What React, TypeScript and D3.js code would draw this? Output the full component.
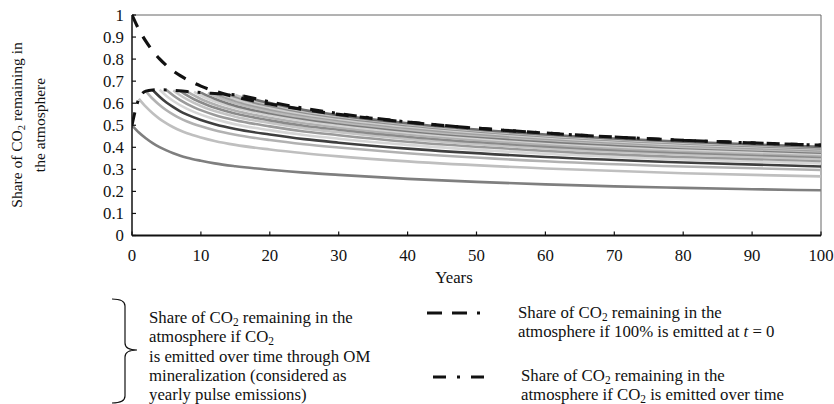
import React from 'react';
import * as d3 from 'd3';

// ---------- data ----------
const X_TICKS = [0, 10, 20, 30, 40, 50, 60, 70, 80, 90, 100];
const Y_TICKS = [0, 0.1, 0.2, 0.3, 0.4, 0.5, 0.6, 0.7, 0.8, 0.9, 1];
const Y_TICK_LABELS = ['0', '0.1', '0.2', '0.3', '0.4', '0.5', '0.6', '0.7', '0.8', '0.9', '1'];

// 100% emitted at t = 0
const DASHED_YEARS = [0, 1, 2, 3, 4, 5, 6, 7, 8, 10, 12, 15, 20, 25, 30, 40, 50, 60, 70, 80, 90, 100];
const DASHED_SHARE = [1, 0.9345, 0.8812, 0.8373, 0.8012, 0.7712, 0.7461, 0.7249, 0.7067, 0.6775, 0.6549, 0.6288, 0.5962, 0.5708, 0.5491, 0.5142, 0.4865, 0.4644, 0.4465, 0.4319, 0.4198, 0.4095];

// emitted over time
const DASHDOT_YEARS = [0, 1, 2, 3, 4, 5, 6, 8, 10, 12, 14, 16, 18, 20, 25, 30, 40, 60, 80, 100];
const DASHDOT_SHARE = [0.5, 0.62, 0.655, 0.66, 0.661, 0.66, 0.658, 0.653, 0.648, 0.644, 0.64, 0.634, 0.62, 0.606, 0.577, 0.553, 0.515, 0.465, 0.432, 0.41];

// yearly pulse curves: [year, share]
const GRAY_0 = [[0, 0.5], [1, 0.467], [2, 0.441], [3, 0.419], [4, 0.401], [5, 0.386], [6, 0.373], [7, 0.362], [8, 0.353], [10, 0.339], [12, 0.327], [15, 0.314], [20, 0.298], [25, 0.285], [30, 0.275], [40, 0.257], [50, 0.243], [60, 0.232], [70, 0.223], [80, 0.216], [90, 0.21], [100, 0.205]];
const GRAY_1 = [[1, 0.62], [2, 0.584], [3, 0.554], [4, 0.529], [5, 0.509], [6, 0.491], [7, 0.476], [8, 0.464], [10, 0.445], [12, 0.429], [15, 0.411], [20, 0.39], [25, 0.373], [30, 0.359], [40, 0.336], [60, 0.304], [80, 0.282], [100, 0.268]];
const GRAY_2 = [[2, 0.655], [3, 0.62], [4, 0.592], [5, 0.568], [6, 0.548], [7, 0.531], [8, 0.517], [10, 0.495], [12, 0.477], [15, 0.457], [20, 0.433], [25, 0.414], [30, 0.399], [40, 0.373], [60, 0.337], [80, 0.313], [100, 0.297]];
const GRAY_3 = [[3, 0.66], [4, 0.629], [5, 0.603], [6, 0.582], [7, 0.563], [8, 0.548], [10, 0.524], [12, 0.505], [15, 0.483], [20, 0.458], [25, 0.437], [30, 0.421], [40, 0.394], [60, 0.356], [80, 0.331], [100, 0.313]];
const GRAY_4 = [[4, 0.661], [5, 0.633], [6, 0.61], [8, 0.574], [11, 0.537], [15, 0.504], [20, 0.478], [25, 0.456], [30, 0.439], [40, 0.411], [60, 0.371], [80, 0.345], [100, 0.327]];
const GRAY_5 = [[5, 0.66], [6, 0.635], [7, 0.614], [9, 0.581], [12, 0.547], [15, 0.523], [20, 0.495], [25, 0.472], [30, 0.455], [40, 0.425], [60, 0.384], [80, 0.356], [100, 0.338]];
const GRAY_6 = [[6, 0.658], [7, 0.636], [8, 0.617], [10, 0.587], [13, 0.555], [15, 0.539], [20, 0.51], [25, 0.486], [30, 0.468], [40, 0.438], [60, 0.395], [80, 0.367], [100, 0.347]];
const GRAY_7 = [[7, 0.656], [8, 0.635], [9, 0.618], [11, 0.591], [14, 0.561], [20, 0.522], [25, 0.498], [30, 0.48], [40, 0.448], [60, 0.404], [80, 0.375], [100, 0.356]];
const GRAY_8 = [[8, 0.653], [9, 0.635], [10, 0.619], [12, 0.594], [15, 0.566], [20, 0.534], [25, 0.509], [30, 0.49], [40, 0.458], [60, 0.413], [80, 0.383], [100, 0.363]];
const GRAY_9 = [[9, 0.651], [10, 0.634], [11, 0.62], [13, 0.597], [16, 0.571], [20, 0.545], [25, 0.519], [30, 0.499], [40, 0.467], [60, 0.421], [80, 0.39], [100, 0.37]];
const GRAY_10 = [[10, 0.648], [11, 0.633], [12, 0.62], [14, 0.598], [17, 0.573], [20, 0.554], [25, 0.528], [30, 0.508], [40, 0.474], [60, 0.427], [80, 0.397], [100, 0.376]];
const GRAY_11 = [[11, 0.646], [12, 0.632], [13, 0.62], [15, 0.6], [18, 0.576], [20, 0.563], [25, 0.536], [30, 0.515], [40, 0.481], [60, 0.434], [80, 0.402], [100, 0.381]];
const GRAY_12 = [[12, 0.644], [13, 0.631], [14, 0.62], [16, 0.601], [19, 0.578], [25, 0.544], [30, 0.523], [40, 0.488], [60, 0.439], [80, 0.408], [100, 0.386]];
const GRAY_13 = [[13, 0.642], [14, 0.63], [15, 0.619], [17, 0.601], [20, 0.58], [25, 0.551], [30, 0.529], [40, 0.494], [60, 0.445], [80, 0.413], [100, 0.391]];
const GRAY_14 = [[14, 0.64], [15, 0.629], [16, 0.619], [18, 0.601], [21, 0.582], [25, 0.558], [30, 0.535], [40, 0.5], [60, 0.45], [80, 0.417], [100, 0.395]];
const GRAY_15 = [[15, 0.638], [16, 0.627], [17, 0.618], [19, 0.602], [22, 0.582], [25, 0.564], [30, 0.541], [40, 0.505], [60, 0.454], [80, 0.421], [100, 0.399]];
const GRAY_16 = [[16, 0.634], [17, 0.625], [18, 0.616], [20, 0.601], [23, 0.582], [25, 0.569], [30, 0.546], [40, 0.509], [60, 0.458], [80, 0.425], [100, 0.402]];

const GRAY_CURVES = [GRAY_0, GRAY_1, GRAY_2, GRAY_3, GRAY_4, GRAY_5, GRAY_6, GRAY_7, GRAY_8, GRAY_9, GRAY_10, GRAY_11, GRAY_12, GRAY_13, GRAY_14, GRAY_15, GRAY_16];

// ---------- drawing ----------
const W = 834;
const H = 404;
const FONT = '"Liberation Serif", "Times New Roman", serif';
const FS = 16.8;
const GRAY_PALETTE = ['#7f7f7f', '#bfbfbf', '#b2b2b2', '#3f3f3f', '#d6d6d6', '#9a9a9a', '#c4c4c4', '#8a8a8a', '#b0b0b0', '#d2d2d2', '#7c7c7c', '#bababa', '#a0a0a0', '#cdcdcd', '#8f8f8f', '#c2c2c2', '#6e6e6e'];

const Sub = ({ children }: { children: React.ReactNode }) => (
  <tspan fontSize="0.68em" baselineShift="-0.25em">{children}</tspan>
);

export default function App() {
  const x = d3.scaleLinear().domain([0, 100]).range([132, 821]);
  const y = d3.scaleLinear().domain([0, 1]).range([235.5, 15]);
  const line = d3
    .line<number[]>()
    .x((d) => x(d[0]))
    .y((d) => y(d[1]))
    .curve(d3.curveMonotoneX);

  const dashed = DASHED_YEARS.map((t, i) => [t, DASHED_SHARE[i]]);
  const dashdot = DASHDOT_YEARS.map((t, i) => [t, DASHDOT_SHARE[i]]);

  const [x0, x1] = x.range();
  const [yb, yt] = y.range();

  return (
    <svg
      width={W}
      height={H}
      style={{ position: 'absolute', left: 0, top: 0, display: 'block', background: '#fff' }}
      fontFamily={FONT}
    >
      <defs>
        <clipPath id="plot">
          <rect x={x0} y={yt - 2} width={x1 - x0} height={yb - yt + 2} />
        </clipPath>
      </defs>

      {/* frame */}
      <line x1={x0} x2={x1} y1={yt} y2={yt} stroke="#666" strokeWidth={1} />
      <line x1={x1} x2={x1} y1={yt} y2={yb} stroke="#666" strokeWidth={1} />

      <g clipPath="url(#plot)" fill="none">
        {GRAY_CURVES.map((c, i) => (
          <path key={i} d={line(c) || ''} stroke={GRAY_PALETTE[i % GRAY_PALETTE.length]} strokeWidth={2.6} />
        ))}
        <path d={line(dashdot) || ''} stroke="#111" strokeWidth={3} strokeDasharray="13 9 3 9" />
        <path d={line(dashed) || ''} stroke="#111" strokeWidth={3.2} strokeDasharray="13 11" />
      </g>

      {/* axes */}
      <line x1={x0} x2={x0} y1={yt} y2={yb} stroke="#111" strokeWidth={1.5} />
      <line x1={x0} x2={x1} y1={yb} y2={yb} stroke="#111" strokeWidth={1.8} />

      {Y_TICKS.map((v, i) => (
        <g key={'y' + i}>
          <line x1={x0} x2={x0 + 4} y1={y(v)} y2={y(v)} stroke="#111" strokeWidth={1.2} />
          <text x={x0 - 8} y={y(v) + 5.5} textAnchor="end" fontSize={FS} fill="#111">
            {Y_TICK_LABELS[i]}
          </text>
        </g>
      ))}
      {X_TICKS.map((v) => (
        <g key={'x' + v}>
          <line x1={x(v)} x2={x(v)} y1={yb} y2={yb - 4} stroke="#111" strokeWidth={1.2} />
          <text x={x(v)} y={261} textAnchor="middle" fontSize={FS} fill="#111">
            {v}
          </text>
        </g>
      ))}
      <text x={454} y={283} textAnchor="middle" fontSize={FS} fill="#111">Years</text>

      {/* y title */}
      <g transform="translate(22,125) rotate(-90)">
        <text x={0} y={0} textAnchor="middle" fontSize={15.5} fill="#111">
          Share of CO<Sub>2</Sub> remaining in
        </text>
      </g>
      <g transform="translate(45,125) rotate(-90)">
        <text x={0} y={0} textAnchor="middle" fontSize={15.5} fill="#111">the atmosphere</text>
      </g>

      {/* legend: brace */}
      <path
        d="M112,299 Q125,299 125,306 L125,343 Q125,350 137,350 Q125,350 125,357 L125,396 Q125,403 112,403"
        fill="none"
        stroke="#111"
        strokeWidth={1.2}
      />
      <g fontSize={FS} fill="#111">
        <text x={149} y={323}>Share of CO<Sub>2</Sub> remaining in the</text>
        <text x={149} y={342}>atmosphere if CO<Sub>2</Sub></text>
        <text x={149} y={362}>is emitted over time through OM</text>
        <text x={149} y={381}>mineralization (considered as</text>
        <text x={149} y={400}>yearly pulse emissions)</text>
      </g>

      {/* legend: dashed */}
      <line x1={427} x2={480} y1={313} y2={313} stroke="#111" strokeWidth={3} strokeDasharray="15 10" />
      <g fontSize={FS} fill="#111">
        <text x={518} y={318}>Share of CO<Sub>2</Sub> remaining in the</text>
        <text x={518} y={337}>
          atmosphere if 100% is emitted at <tspan fontStyle="italic">t</tspan> = 0
        </text>
      </g>

      {/* legend: dash-dot */}
      <line x1={433} x2={485} y1={377} y2={377} stroke="#111" strokeWidth={3} strokeDasharray="13 11 3 11" />
      <g fontSize={FS} fill="#111">
        <text x={521} y={381}>Share of CO<Sub>2</Sub> remaining in the</text>
        <text x={521} y={400}>atmosphere if CO<Sub>2</Sub> is emitted over time</text>
      </g>
    </svg>
  );
}
